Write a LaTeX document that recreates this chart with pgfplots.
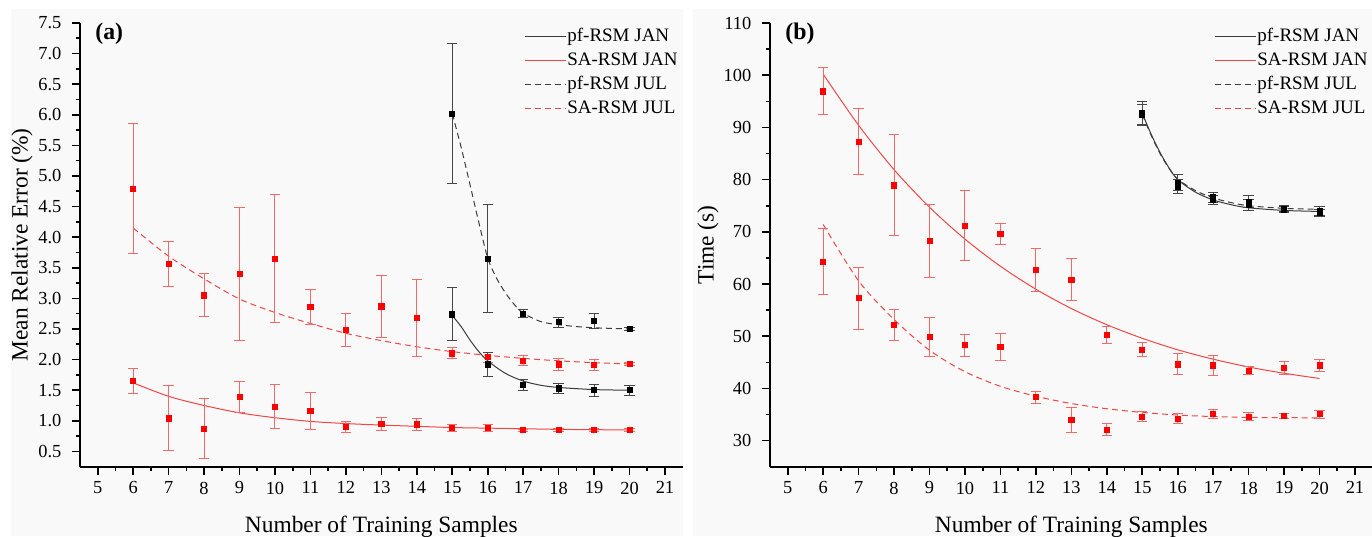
\documentclass[border=0pt]{standalone}
\usepackage{fontspec}
\setmainfont{Liberation Serif}
\usepackage{pgfplots}
\pgfplotsset{compat=1.18}

\definecolor{errred}{RGB}{242,105,105}
\definecolor{fitred}{RGB}{242,70,70}
\definecolor{fitblack}{RGB}{60,60,60}
\definecolor{errblack}{RGB}{70,70,70}
\definecolor{bggray}{RGB}{249,249,249}

\pgfplotsset{
  panel/.style={
    scale only axis, width=301.35pt, height=221.85pt,
    axis x line*=bottom, axis y line*=left,
    axis line style={line width=1pt},
    xmin=4.5, xmax=21.5, xtick={5,...,21}, minor x tick num=1,
    minor y tick num=1,
    tick align=outside, major tick length=4pt, minor tick length=2pt,
    tick style={line width=0.8pt, black},
    every tick label/.append style={font=\fontsize{9.2}{11}\selectfont},
    yticklabel style={xshift=-1.8pt},
    /pgf/number format/assume math mode=true,
    label style={font=\fontsize{11.7}{14}\selectfont},
    xlabel={Number of Training Samples},
    xlabel style={at={(axis description cs:0.5,-0.1355)}, anchor=center},
    legend style={draw=none, fill=none, inner sep=0pt,
      font=\fontsize{9.5}{11}\selectfont,
      at={(rel axis cs:0.994,0.994)}, anchor=north east,
      nodes={inner sep=0.5pt, text height=7pt, text depth=2pt},
      row sep=2.1pt},
    legend cell align=left,
    legend image code/.code={\draw[#1] (0pt,0pt) -- (20.5pt,0pt);},
    clip=false,
  },
  fit/.style={line width=0.5pt, smooth, #1},
  errs/.style 2 args={only marks, mark=square*, mark size=1.3pt, color=#1, forget plot,
    error bars/.cd, y dir=both, y explicit,
    error bar style={color=#2, line width=0.5pt},
    error mark options={rotate=90, mark size=2.6pt, color=#2, line width=0.5pt}},
}

\begin{document}
\begin{tikzpicture}
\useasboundingbox (0,0) rectangle (686pt,268pt);
\fill[bggray] (5.5pt,0) rectangle (341.5pt,263.5pt);
\fill[bggray] (346.5pt,0) rectangle (686pt,263.5pt);

% (a) mean relative error
\begin{axis}[panel, at={(40pt,34.65pt)}, anchor=south west,
  ymin=0.25, ymax=7.5, ytick={0.5,1,...,7.5},
  yticklabel style={/pgf/number format/.cd, fixed, fixed zerofill, precision=1},
  ylabel={Mean Relative Error (\%)},
  ylabel style={at={(axis description cs:-0.0962,0.5)}, anchor=center},
]
\addplot[fit={fitblack}] coordinates {(15,2.72)(15.25,2.54)(15.5,2.32)(15.75,2.13)(16,1.98)(16.5,1.775)(17,1.65)(17.5,1.58)(18,1.545)(19,1.51)(20,1.50)};
\addlegendentry{pf-RSM JAN}
\addplot[fit={fitred}] coordinates {(6,1.62)(7,1.40)(8,1.25)(9,1.13)(10,1.05)(11,0.99)(12,0.955)(13,0.93)(14,0.91)(15,0.89)(16,0.88)(17,0.87)(18,0.86)(19,0.855)(20,0.85)};
\addlegendentry{SA-RSM JAN}
\addplot[fit={fitblack, dash pattern=on 3pt off 2pt}] coordinates {(15,6.02)(15.25,5.47)(15.5,4.86)(15.75,4.24)(16,3.66)(16.25,3.33)(16.5,3.09)(16.75,2.90)(17,2.76)(17.5,2.62)(18,2.57)(18.5,2.54)(19,2.52)(20,2.50)};
\addlegendentry{pf-RSM JUL}
\addplot[fit={fitred, dash pattern=on 3pt off 2pt}] coordinates {(6,4.15)(7,3.69)(8,3.32)(9,2.99)(10,2.77)(11,2.59)(12,2.43)(13,2.31)(14,2.21)(15,2.13)(16,2.07)(17,2.02)(18,1.98)(19,1.95)(20,1.93)};
\addlegendentry{SA-RSM JUL}

\addplot[errs={red}{errred}] table[x index=0, y index=1, y error index=2] {
6 4.79 1.06
7 3.56 0.37
8 3.05 0.35
9 3.40 1.08
10 3.65 1.05
11 2.86 0.28
12 2.48 0.27
13 2.87 0.51
14 2.68 0.63
15 2.10 0.09
16 2.04 0.08
17 1.98 0.08
18 1.92 0.09
19 1.91 0.09
20 1.93 0.03
};
\addplot[errs={red}{errred}] table[x index=0, y index=1, y error index=2] {
6 1.65 0.20
7 1.04 0.53
8 0.87 0.49
9 1.39 0.26
10 1.23 0.36
11 1.16 0.30
12 0.90 0.09
13 0.95 0.11
14 0.94 0.10
15 0.88 0.06
16 0.88 0.06
17 0.845 0.02
18 0.85 0.03
19 0.85 0.03
20 0.85 0.02
};
\addplot[errs={black}{errblack}] table[x index=0, y index=1, y error index=2] {
15 6.02 1.15
16 3.65 0.88
17 2.75 0.07
18 2.61 0.08
19 2.63 0.13
20 2.50 0.03
};
\addplot[errs={black}{errblack}] table[x index=0, y index=1, y error index=2] {
15 2.74 0.43
16 1.92 0.20
17 1.59 0.09
18 1.53 0.08
19 1.50 0.10
20 1.50 0.08
};
\node[anchor=west, inner sep=0pt, font=\bfseries\fontsize{11.9}{14}\selectfont] at (rel axis cs:0.0249,0.975) {(a)};
\end{axis}

% (b) time
\begin{axis}[panel, at={(385pt,34.65pt)}, anchor=south west,
  ymin=25, ymax=110, ytick={30,40,...,110},
  ylabel={Time (s)},
  ylabel style={at={(axis description cs:-0.103,0.5)}, anchor=center},
]
\addplot[fit={fitblack}] coordinates {(15,92.7)(15.25,88.7)(15.5,85.2)(15.75,82.3)(16,80.0)(16.5,77.6)(17,76.1)(17.5,75.2)(18,74.6)(19,74.1)(20,73.9)};
\addlegendentry{pf-RSM JAN}
\addplot[fit={fitred}] coordinates {(6,100.2)(7,90.4)(8,81.9)(9,74.7)(10,68.6)(11,63.4)(12,59.0)(13,55.3)(14,52.2)(15,49.6)(16,47.4)(17,45.6)(18,44.1)(19,42.9)(20,41.9)};
\addlegendentry{SA-RSM JAN}
\addplot[fit={fitblack, dash pattern=on 3pt off 2pt}] coordinates {(15,92.5)(15.25,88.5)(15.5,85.0)(15.75,82.2)(16,80.1)(16.5,77.9)(17,76.5)(17.5,75.6)(18,75.0)(19,74.5)(20,74.3)};
\addlegendentry{pf-RSM JUL}
\addplot[fit={fitred, dash pattern=on 3pt off 2pt}] coordinates {(6,71.4)(7,60.6)(8,53.2)(9,47.3)(10,43.2)(11,40.4)(12,38.5)(13,37.1)(14,36.1)(15,35.4)(16,34.9)(17,34.6)(18,34.45)(19,34.4)(20,34.35)};
\addlegendentry{SA-RSM JUL}

\addplot[errs={red}{errred}] table[x index=0, y index=1, y error index=2] {
6 96.9 4.5
7 87.3 6.4
8 78.9 9.65
9 68.3 7.0
10 71.2 6.7
11 69.6 2.05
12 62.7 4.1
13 60.8 4.0
14 50.2 1.65
15 47.45 1.35
16 44.6 2.0
17 44.4 1.85
18 43.4 0.8
19 44.0 1.25
20 44.4 1.2
};
\addplot[errs={red}{errred}] table[x index=0, y index=1, y error index=2] {
6 64.3 6.3
7 57.3 5.95
8 52.2 3.0
9 49.9 3.7
10 48.3 2.1
11 47.95 2.55
12 38.3 1.1
13 33.97 2.45
14 32.1 1.1
15 34.6 0.9
16 34.2 0.9
17 35.1 0.9
18 34.6 0.8
19 34.75 0.5
20 35.05 0.8
};
\addplot[errs={black}{errblack}] table[x index=0, y index=1, y error index=2] {
15 92.7 2.2
16 79.4 1.5
17 76.6 1.0
18 75.8 1.1
19 74.4 0.6
20 74.0 0.8
};
\addplot[errs={black}{errblack}] table[x index=0, y index=1, y error index=2] {
15 92.4 2.0
16 78.7 1.3
17 76.1 0.9
18 75.1 1.0
19 74.3 0.6
20 73.6 0.7
};
\node[anchor=west, inner sep=0pt, font=\bfseries\fontsize{11.9}{14}\selectfont] at (rel axis cs:0.0249,0.975) {(b)};
\end{axis}
\end{tikzpicture}
\end{document}
